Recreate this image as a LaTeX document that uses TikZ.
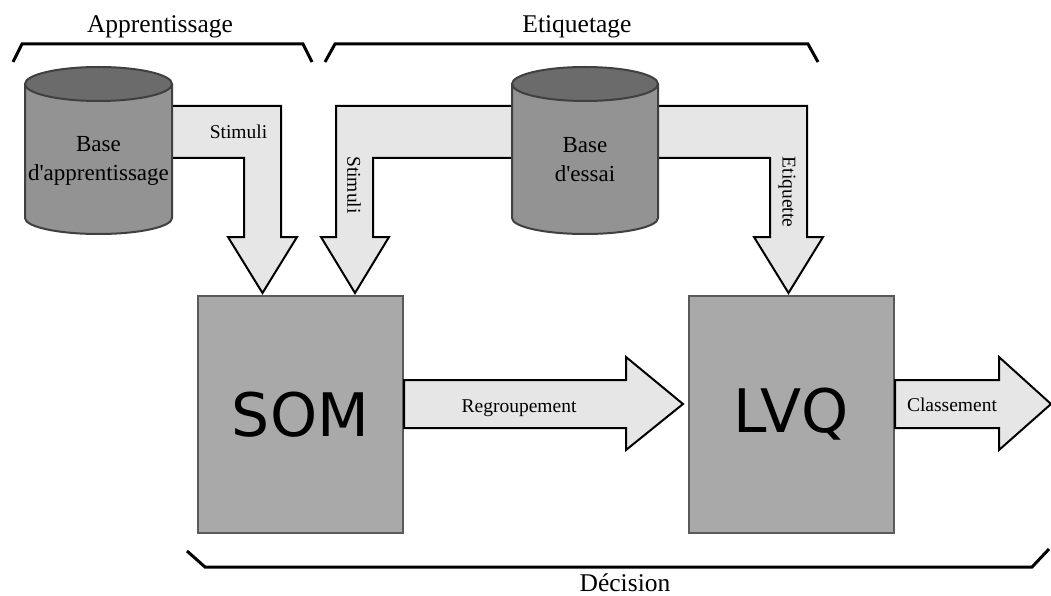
\documentclass[tikz,border=0pt]{standalone}
\usepackage{fontspec}
\setmainfont{Liberation Serif}
\newfontfamily\blocksans{DejaVu Sans}
\usetikzlibrary{positioning}
\definecolor{boxgray}{HTML}{A9A9A9}
\definecolor{boxline}{HTML}{5A5A5A}
\definecolor{arrowgray}{HTML}{E6E6E6}
\definecolor{dbbody}{HTML}{939393}
\definecolor{dbtop}{HTML}{6B6B6B}
\definecolor{dbline}{HTML}{404040}

\begin{document}
\begin{tikzpicture}[x=1pt,y=-1pt,
  procbox/.style={draw=boxline, line width=2pt, fill=boxgray, minimum width=205pt,
    minimum height=237pt, inner sep=0pt, font=\blocksans\fontsize{60}{60}\selectfont},
  blockarrow/.style={draw=black, line width=2pt, fill=arrowgray},
  dbshape/.style={draw=dbline, line width=2pt, fill=dbbody},
  dbtext/.style={align=center, font=\fontsize{23}{29}\selectfont},
  flowlabel/.style={font=\fontsize{19.5}{23}\selectfont},
  phase/.style={font=\fontsize{25.5}{30}\selectfont},
  bracket/.style={line width=3pt}]
\useasboundingbox[fill=white] (0,0) rectangle (1051,596);

\node[procbox] (som) at (300.5,414.5) {SOM};
\node[procbox, right=284pt of som] (lvq) {LVQ};

\draw[blockarrow] (170,106) -- (281,106) -- (281,237) -- (297,237) -- (262.5,293)
  -- (228,237) -- (244,237) -- (244,158) -- (170,158) -- cycle;
\draw[blockarrow] (514,106) -- (336,106) -- (336,237) -- (321,237) -- (355,293)
  -- (389,237) -- (373,237) -- (373,158) -- (514,158) -- cycle;
\draw[blockarrow] (656,106) -- (807,106) -- (807,237) -- (823,237) -- (788.5,293)
  -- (754,237) -- (770,237) -- (770,158) -- (656,158) -- cycle;

\draw[dbshape] (25,85) -- (25,218) arc[start angle=180, end angle=360, x radius=73.5pt, y radius=16pt]
  -- (172,85) -- cycle;
\draw[dbshape, fill=dbtop] (98.5,84) ellipse[x radius=73.5pt, y radius=17pt];
\node[dbtext] (base1) at (98.5,161) {Base\\d\textquotesingle apprentissage};

\draw[dbshape] (512,85) -- (512,218) arc[start angle=180, end angle=360, x radius=73pt, y radius=16pt]
  -- (658,85) -- cycle;
\draw[dbshape, fill=dbtop] (585,84) ellipse[x radius=73pt, y radius=17pt];
\node[dbtext] (base2) at (585,160) {Base\\d\textquotesingle essai};

\draw[blockarrow] (som.east |- 0,380) -- (626,380) -- (626,357) -- (683,404)
  -- (626,450) -- (626,428) -- (som.east |- 0,428) -- cycle;
\draw[blockarrow] (lvq.east |- 0,380) -- (999,380) -- (999,357) -- (1051,404)
  -- (999,450) -- (999,428) -- (lvq.east |- 0,428) -- cycle;

\node[flowlabel, anchor=base] (stim1) at (238.5,139) {Stimuli};
\node[flowlabel, rotate=-90] (stim2) at (354,185) {Stimuli};
\node[flowlabel, rotate=-90] (etiq) at (787,192) {Etiquette};
\node[flowlabel, anchor=base] (regr) at (519,412) {Regroupement};
\node[flowlabel, anchor=base] (class) at (952,411) {Classement};

\draw[bracket] (13,62) -- (22,44) -- (303,44) -- (312,62);
\draw[bracket] (325,62) -- (335,44) -- (808,44) -- (818,62);
\draw[bracket] (187,551) -- (205,567) -- (1032,567) -- (1049,549);
\node[phase, anchor=base] (appr) at (160,33) {Apprentissage};
\node[phase, anchor=base] (etiqphase) at (577,33) {Etiquetage};
\node[phase, anchor=base, inner sep=0pt] (deci) at (625,591) {Décision};
\end{tikzpicture}
\end{document}
